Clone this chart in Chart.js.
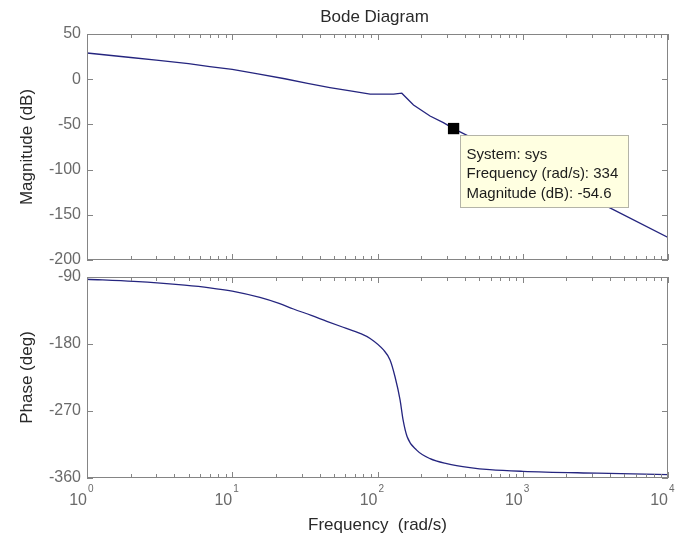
<!DOCTYPE html>
<html>
<head>
<meta charset="utf-8">
<script src="https://cdn.jsdelivr.net/npm/chart.js@4.4.1/dist/chart.umd.min.js"></script>
<style>
  html, body { margin: 0; padding: 0; background: #fff; }
  #wrap { position: relative; width: 678px; height: 538px; }
  #wrap canvas { position: absolute; left: 0; top: 0; }
</style>
</head>
<body>
<div id="wrap">
  <canvas id="magChart" width="678" height="538"></canvas>
  <canvas id="phaseChart" width="678" height="538"></canvas>
</div>
<script>
// --- data ---
const magFreq = [1, 2, 3, 5, 7, 10, 15, 23, 33, 47, 65, 89, 129, 147, 177, 230, 284, 334, 1000, 3890, 10000];
const magDb = [29, 24, 21, 17.3, 14, 10.8, 6, 0.5, -4.5, -9.2, -13, -16.6, -16.4, -15.5, -28.5, -40.7, -48.1, -54.6, -93, -141.5, -175];

const phaseFreq = [1, 2.1, 4.7, 7, 10, 15.5, 21, 26.4, 35, 44.8, 58, 75.9, 89, 110, 122, 132, 143, 150, 160, 186, 230, 300, 433, 594, 1000, 3240, 10000];
const phaseDeg = [-93, -96, -101, -104.5, -109, -117.5, -125.5, -133, -141.5, -149.5, -157.5, -165.6, -172.5, -188, -201.5, -224, -255, -282, -304.6, -322.5, -334, -340.7, -346, -348.8, -351, -353.5, -355.5];

const markerFreq = [334];
const markerDb = [-54.6];
const tipLines = ['System: sys', 'Frequency (rad/s): 334', 'Magnitude (dB): -54.6'];

const decades = [1, 10, 100, 1000, 10000];
const decadeExp = ['0', '1', '2', '3', '4'];
const magTicks = [-200, -150, -100, -50, 0, 50];
const phaseTicks = [-360, -270, -180, -90];

const lineColor = '#25257f';
const axisColor = '#858585';
const tickText = '#6a6a6a';
const labelText = '#2a2a2a';
const fontFamily = "'Liberation Sans', Arial, sans-serif";

Chart.defaults.font.family = fontFamily;

// box round the plot with MATLAB-style inward ticks
const frameBox = {
  id: 'frameBox',
  afterDatasetsDraw(chart, args, opts) {
    const { ctx, chartArea: a, scales: { x, y } } = chart;
    ctx.save();
    ctx.strokeStyle = axisColor;
    ctx.lineWidth = 1;
    ctx.strokeRect(a.left + 0.5, a.top + 0.5, a.right - a.left - 1, a.bottom - a.top - 1);

    ctx.beginPath();
    // x ticks, top and bottom
    decades.forEach((d, i) => {
      const steps = i < decades.length - 1 ? 9 : 1;
      for (let k = 1; k <= steps; k++) {
        const px = Math.round(x.getPixelForValue(k * d)) + 0.5;
        const len = k === 1 ? 6 : 4;
        ctx.moveTo(px, a.bottom);
        ctx.lineTo(px, a.bottom - len);
        ctx.moveTo(px, a.top);
        ctx.lineTo(px, a.top + len);
      }
    });
    // y ticks, left and right
    y.ticks.forEach(t => {
      const py = Math.round(y.getPixelForValue(t.value)) + 0.5;
      ctx.moveTo(a.left, py);
      ctx.lineTo(a.left + 6, py);
      ctx.moveTo(a.right, py);
      ctx.lineTo(a.right - 6, py);
    });
    ctx.stroke();

    if (opts.title) {
      ctx.fillStyle = labelText;
      ctx.font = '17px ' + fontFamily;
      ctx.textAlign = 'center';
      ctx.textBaseline = 'alphabetic';
      ctx.fillText(opts.title, (a.left + a.right) / 2 - 3, 22);
    }

    if (opts.decadeLabels) {
      ctx.fillStyle = tickText;
      ctx.textBaseline = 'alphabetic';
      decades.forEach((d, i) => {
        const px = x.getPixelForValue(d);
        ctx.font = '16px ' + fontFamily;
        ctx.textAlign = 'right';
        ctx.fillText('10', px, a.bottom + 27);
        ctx.font = '10px ' + fontFamily;
        ctx.textAlign = 'left';
        ctx.fillText(decadeExp[i], px + 1, a.bottom + 14);
      });
    }
    ctx.restore();
  }
};

// the data tip box next to the marked point
const dataTip = {
  id: 'dataTip',
  afterDatasetsDraw(chart) {
    const { ctx, scales: { x, y } } = chart;
    const px = x.getPixelForValue(markerFreq[0]);
    const py = y.getPixelForValue(markerDb[0]);
    const left = Math.round(px + 6) + 0.5;
    const top = Math.round(py + 6) + 0.5;
    ctx.save();
    ctx.fillStyle = '#ffffe1';
    ctx.strokeStyle = '#b4b4a8';
    ctx.lineWidth = 1;
    ctx.fillRect(left, top, 168, 72);
    ctx.strokeRect(left, top, 168, 72);
    ctx.fillStyle = '#1c1c1c';
    ctx.font = '15px ' + fontFamily;
    ctx.textAlign = 'left';
    ctx.textBaseline = 'alphabetic';
    tipLines.forEach((s, i) => {
      ctx.fillText(s, left + 6, top + 23 + i * 19.5);
    });
    ctx.restore();
  }
};

function yAxis(ticks, title) {
  return {
    min: ticks[0],
    max: ticks[ticks.length - 1],
    afterBuildTicks: s => { s.ticks = ticks.map(v => ({ value: v })); },
    afterFit: s => { s.width = 87; },
    grid: { display: false, drawTicks: false },
    border: { display: false },
    ticks: { padding: 6, color: tickText, font: { size: 16 } },
    title: { display: true, text: title, color: labelText, font: { size: 17 }, padding: { top: 17 } }
  };
}

new Chart(document.getElementById('magChart'), {
  type: 'line',
  data: {
    datasets: [
      {
        data: markerFreq.map((f, i) => ({ x: f, y: markerDb[i] })),
        showLine: false,
        pointStyle: 'rect',
        pointRadius: 8,
        backgroundColor: '#000',
        borderColor: '#000',
        borderWidth: 0
      },
      {
        data: magFreq.map((f, i) => ({ x: f, y: magDb[i] })),
        borderColor: lineColor,
        borderWidth: 1.3,
        pointRadius: 0,
        tension: 0
      }
    ]
  },
  options: {
    responsive: false,
    animation: false,
    devicePixelRatio: 1,
    layout: { padding: { top: 34, right: 10, bottom: 278, left: 0 } },
    plugins: {
      legend: { display: false },
      tooltip: { enabled: false },
      frameBox: { title: 'Bode Diagram' }
    },
    scales: {
      x: { type: 'logarithmic', min: 1, max: 10000, display: false },
      y: yAxis(magTicks, 'Magnitude (dB)')
    }
  },
  plugins: [dataTip, frameBox]
});

new Chart(document.getElementById('phaseChart'), {
  type: 'line',
  data: {
    datasets: [{
      data: phaseFreq.map((f, i) => ({ x: f, y: phaseDeg[i] })),
      borderColor: lineColor,
      borderWidth: 1.3,
      pointRadius: 0,
      cubicInterpolationMode: 'monotone'
    }]
  },
  options: {
    responsive: false,
    animation: false,
    devicePixelRatio: 1,
    layout: { padding: { top: 277, right: 10, bottom: 0, left: 0 } },
    plugins: {
      legend: { display: false },
      tooltip: { enabled: false },
      frameBox: { decadeLabels: true }
    },
    scales: {
      x: {
        type: 'logarithmic',
        min: 1,
        max: 10000,
        afterFit: s => { s.height = 60; },
        grid: { display: false, drawTicks: false },
        border: { display: false },
        ticks: { display: false },
        title: { display: true, text: 'Frequency  (rad/s)', color: labelText, font: { size: 17 }, padding: { bottom: 2 } }
      },
      y: yAxis(phaseTicks, 'Phase (deg)')
    }
  },
  plugins: [frameBox]
});
</script>
</body>
</html>
